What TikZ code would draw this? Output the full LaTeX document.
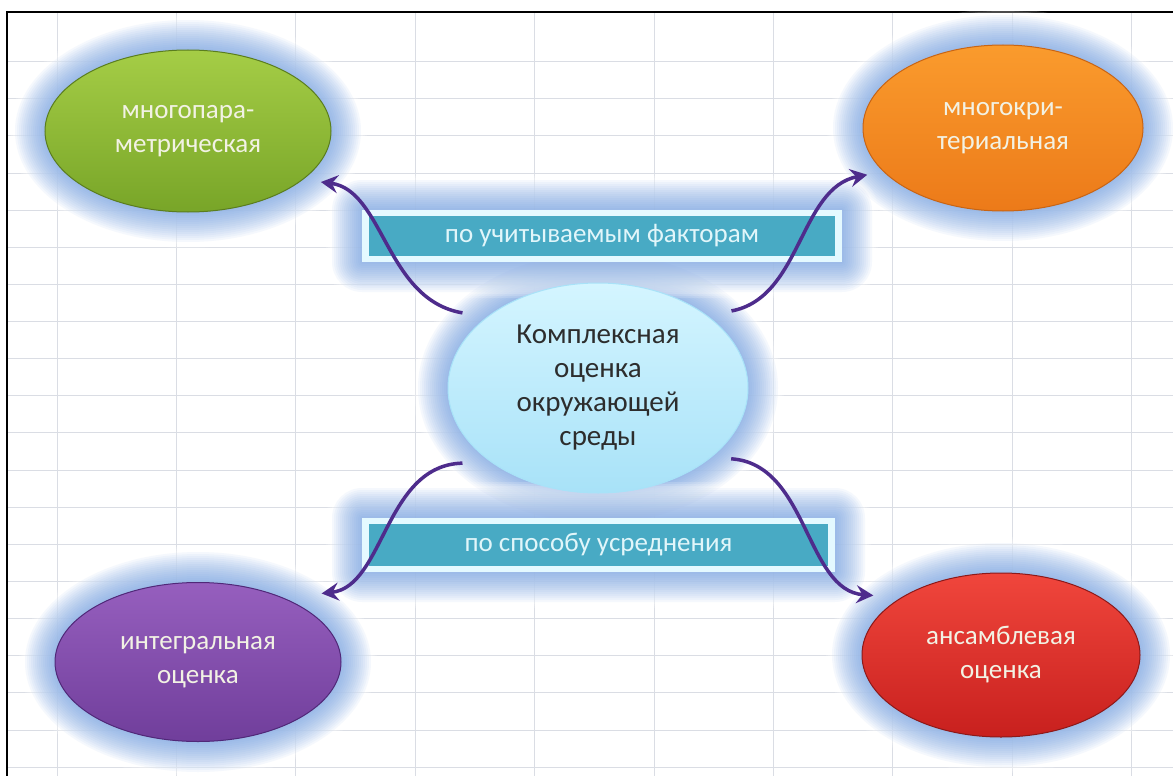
\documentclass[tikz,border=0pt]{standalone}
\usepackage{fontspec}
\setmainfont{Carlito}
\usetikzlibrary{shapes.geometric,arrows.meta,calc}
\definecolor{gridc}{RGB}{218,221,228}
\definecolor{glowc}{RGB}{100,150,222}
\definecolor{tealc}{RGB}{72,170,196}
\definecolor{framec}{RGB}{228,249,255}
\definecolor{bartext}{RGB}{225,246,250}
\definecolor{arrowc}{RGB}{78,44,140}
\definecolor{lighttext}{RGB}{242,242,228}
\definecolor{greentop}{RGB}{165,205,70}
\definecolor{greenbot}{RGB}{120,165,40}
\definecolor{greenedge}{RGB}{90,125,30}
\definecolor{orangetop}{RGB}{250,155,45}
\definecolor{orangebot}{RGB}{236,122,25}
\definecolor{orangeedge}{RGB}{200,100,20}
\definecolor{purpletop}{RGB}{150,95,190}
\definecolor{purplebot}{RGB}{112,62,155}
\definecolor{purpleedge}{RGB}{80,40,120}
\definecolor{redtop}{RGB}{240,70,60}
\definecolor{redbot}{RGB}{200,32,30}
\definecolor{rededge}{RGB}{140,25,25}
\definecolor{centop}{RGB}{212,245,255}
\definecolor{cenbot}{RGB}{168,226,248}
\definecolor{centext}{RGB}{45,45,45}
\newcommand\myglowell[3]{%
  \foreach \k in {18,...,1}{%
    \fill[white,opacity=0.16] (#1) ellipse [x radius={#2pt+2pt*\k}, y radius={#3pt+2pt*\k}];}
  \foreach \k in {1,...,15}{%
    \fill[glowc,opacity=0.06] (#1) ellipse [x radius={#2pt+2pt*\k}, y radius={#3pt+2pt*\k}];}}
\newcommand\myglowrect[4]{%
  \foreach \k in {18,...,1}{%
    \fill[white,opacity=0.16,rounded corners={2pt*\k}] ({#1-2*\k},{#2-2*\k}) rectangle ({#3+2*\k},{#4+2*\k});}
  \foreach \k in {1,...,15}{%
    \fill[glowc,opacity=0.06,rounded corners={2pt*\k}] ({#1-2*\k},{#2-2*\k}) rectangle ({#3+2*\k},{#4+2*\k});}}
\begin{document}
\begin{tikzpicture}[x=1pt,y=-1pt,
  ovalnode/.style={ellipse,inner sep=0pt,align=center,line width=1pt,
    font=\fontsize{27}{34}\selectfont},
  barnode/.style={rectangle,fill=tealc,draw=framec,line width=6.5pt,inner sep=0pt,
    text=bartext,font=\fontsize{27}{30}\selectfont},
  arrowline/.style={draw=arrowc,line width=3.5pt,
    -{Stealth[length=17pt,width=18pt,inset=6pt]}}]
\useasboundingbox (0,0) rectangle (1173,776);
\fill[white] (0,0) rectangle (1173,776);
% spreadsheet grid
\foreach \i in {0,...,9}{\draw[gridc,line width=1pt] ({57+119.4*\i},12) -- ({57+119.4*\i},776);}
\foreach \yy in {62,98,135}{\draw[gridc,line width=1pt] (7,\yy) -- (1173,\yy);}
\foreach \i in {0,...,16}{\draw[gridc,line width=1pt] (7,{173+37.14*\i}) -- (1173,{173+37.14*\i});}
% border
\draw[black,line width=2.2pt] (7,776) -- (7,12) -- (1173,12);
% glows
\myglowell{188,131}{143}{81}
\myglowell{1003,128}{140}{83}
\myglowell{198,662}{143}{80}
\myglowell{1001,655}{139}{82}
\myglowell{598,388}{150}{105}
\myglowrect{362}{210}{842}{262}
\myglowrect{362}{518}{835}{572}
% label bars
\node[barnode,minimum width=473pt,minimum height=46pt] (bartop) at (602,236) {по учитываемым факторам};
\node[barnode,minimum width=466pt,minimum height=48pt] (barbot) at (598.5,545) {по способу усреднения};
% ellipses
\node[ovalnode,minimum width=286pt,minimum height=162pt,top color=greentop,bottom color=greenbot,draw=greenedge,text=lighttext] (green) at (188,131) {многопара-\\метрическая};
\node[ovalnode,minimum width=280pt,minimum height=166pt,top color=orangetop,bottom color=orangebot,draw=orangeedge,text=lighttext] (orange) at (1003,128) {многокри-\\териальная};
\node[ovalnode,minimum width=286pt,minimum height=159pt,top color=purpletop,bottom color=purplebot,draw=purpleedge,text=lighttext] (purple) at (198,662) {интегральная\\оценка};
\node[ovalnode,minimum width=278pt,minimum height=164pt,top color=redtop,bottom color=redbot,draw=rededge,text=lighttext] (red) at (1001,655) {ансамблевая\\оценка};
\node[ovalnode,minimum width=300pt,minimum height=210pt,top color=centop,bottom color=cenbot,draw=cenbot,text=centext,font=\fontsize{29}{34}\selectfont] (cen) at (598,388) {Комплексная\\оценка\\окружающей\\среды};
% connectors
\draw[arrowline] ($(cen.151)!-20pt!(cen.center)$) .. controls +(-77,-13) and +(63,8) .. ($(green.339)!-15pt!(green.center)$);
\draw[arrowline] ($(cen.30)!-20pt!(cen.center)$) .. controls +(70,-13) and +(-68,13) .. ($(orange.199)!-15pt!(orange.center)$);
\draw[arrowline] ($(cen.209)!-20pt!(cen.center)$) .. controls +(-78,2) and +(63,-7) .. ($(purple.29)!-25pt!(purple.center)$);
\draw[arrowline] ($(cen.332)!-15pt!(cen.center)$) .. controls +(77,5) and +(-68,-5) .. ($(red.155)!-20pt!(red.center)$);
\end{tikzpicture}
\end{document}
